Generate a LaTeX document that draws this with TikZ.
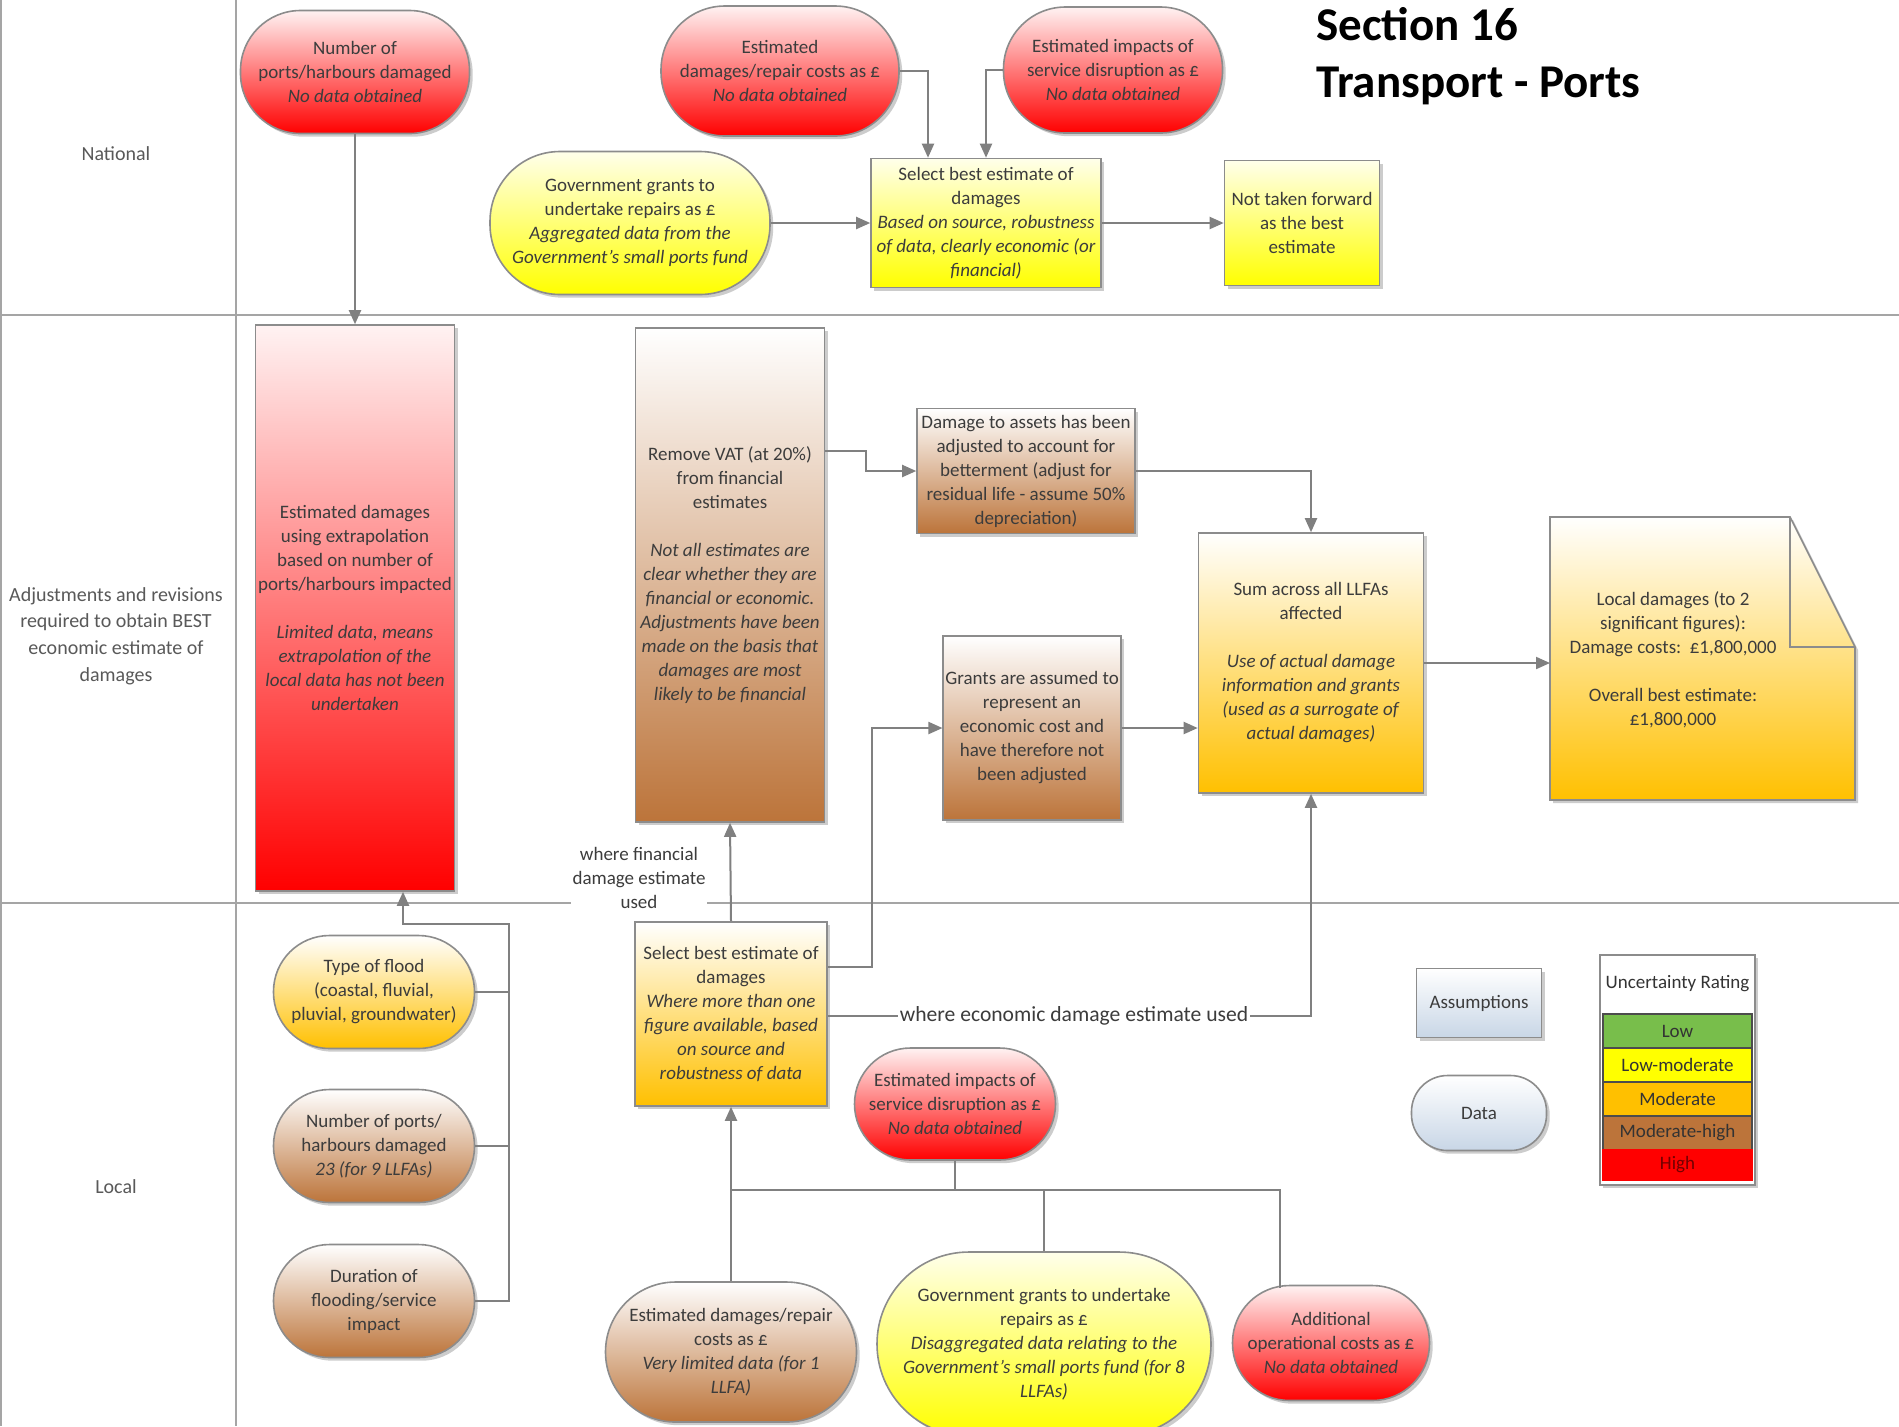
\documentclass[tikz,border=0pt]{standalone}
\usepackage{fontspec}
\setmainfont{Carlito}
\usetikzlibrary{shadows,arrows.meta}
\definecolor{txt}{RGB}{60,60,60}
\definecolor{lanetxt}{RGB}{89,89,89}
\definecolor{linec}{RGB}{128,128,128}
\definecolor{lanec}{RGB}{165,165,165}
\definecolor{ora}{RGB}{255,192,0}
\definecolor{brn}{RGB}{188,116,58}
\definecolor{blu}{RGB}{200,214,230}
\definecolor{grn}{RGB}{120,190,75}
\definecolor{yel}{RGB}{255,255,0}
\definecolor{rd}{RGB}{255,0,0}
\tikzset{
 nodebase/.style={draw=black!45, line width=0.8pt, text=txt, align=center, inner sep=1pt,
   font=\fontsize{9.5}{12}\selectfont,
   drop shadow={shadow xshift=1.6pt, shadow yshift=-1.6pt, opacity=0.4}},
 box/.style={nodebase, rectangle},
 stad/.style={nodebase, rectangle, rounded corners=#1},
 redg/.style={top color=rd!5, bottom color=rd},
 yelg/.style={top color=yel!8, bottom color=yel},
 orag/.style={top color=white, bottom color=ora},
 brng/.style={top color=white, bottom color=brn},
 blug/.style={top color=white, bottom color=blu},
 conn/.style={draw=linec, line width=1pt},
 arr/.style={conn, -{Triangle[length=7pt,width=6pt]}},
 lane/.style={draw=lanec, line width=1pt},
 lanelbl/.style={text=lanetxt, align=center, font=\fontsize{10}{13.3}\selectfont},
 lbl/.style={text=txt, align=center, fill=white, inner sep=1pt},
 rowc/.style={draw=black!70, line width=0.6pt, minimum width=74.5pt, minimum height=17pt, inner sep=0pt, font=\fontsize{9.5}{11}\selectfont, text=black!80},
}
\begin{document}
\begin{tikzpicture}[x=0.5pt, y=-0.5pt]
\fill[white] (0,0) rectangle (1899,1426);
\useasboundingbox (0,0) rectangle (1899,1426);

% lanes
\draw[lane] (1,0) -- (1,1426);
\draw[lane] (236,0) -- (236,1426);
\draw[lane] (1,315) -- (1899,315);
\draw[lane] (1,903) -- (1899,903);
\node[lanelbl] (lnat) at (116,154) {National};
\node[lanelbl] (ladj) at (116,636) {Adjustments and revisions\\required to obtain BEST\\economic estimate of\\damages};
\node[lanelbl] (lloc) at (116,1187) {Local};

% title
\node[anchor=base west, inner sep=0pt, font=\fontsize{23.5}{28}\selectfont\bfseries, text=black] (t1) at (1316,40) {Section 16};
\node[anchor=base west, inner sep=0pt, font=\fontsize{23.5}{28}\selectfont\bfseries, text=black] (t2) at (1316,97) {Transport - Ports};

% national
\node[stad=30pt, redg, minimum width=114.5pt, minimum height=61.5pt] (n1) at (355,72) {Number of\\ports/harbours damaged\\\textit{No data obtained}};
\node[stad=32pt, redg, minimum width=119pt, minimum height=65pt] (n2) at (780,71) {Estimated\\damages/repair costs as £\\\textit{No data obtained}};
\node[stad=31pt, redg, minimum width=109.5pt, minimum height=63pt] (n3) at (1113,70) {Estimated impacts of\\service disruption as £\\\textit{No data obtained}};
\node[stad=35pt, yelg, minimum width=140pt, minimum height=71.5pt] (n4) at (630,223) {Government grants to\\undertake repairs as £\\\textit{Aggregated data from the}\\\textit{Government's small ports fund}};
\node[box, yelg, minimum width=115pt, minimum height=64.5pt] (n5) at (986,223) {Select best estimate of\\damages\\\textit{Based on source, robustness}\\\textit{of data, clearly economic (or}\\\textit{financial)}};
\node[box, yelg, minimum width=77.5pt, minimum height=62.5pt] (n6) at (1302,223) {Not taken forward\\as the best\\estimate};

% adjustments
\node[box, redg, minimum width=99.5pt, minimum height=283pt] (r1) at (355,608) {Estimated damages\\using extrapolation\\based on number of\\ports/harbours impacted\\[12pt]\textit{Limited data, means}\\\textit{extrapolation of the}\\\textit{local data has not been}\\\textit{undertaken}};
\node[box, brng, minimum width=94.5pt, minimum height=247pt] (r2) at (730,575) {Remove VAT (at 20\%)\\from financial\\estimates\\[12pt]\textit{Not all estimates are}\\\textit{clear whether they are}\\\textit{financial or economic.}\\\textit{Adjustments have been}\\\textit{made on the basis that}\\\textit{damages are most}\\\textit{likely to be financial}};
\node[box, brng, minimum width=109pt, minimum height=62.5pt] (r3) at (1026,471) {Damage to assets has been\\adjusted to account for\\betterment (adjust for\\residual life - assume 50\%\\depreciation)};
\node[box, brng, minimum width=88.5pt, minimum height=92pt] (r4) at (1032,728) {Grants are assumed to\\represent an\\economic cost and\\have therefore not\\been adjusted};
\node[box, orag, minimum width=112.5pt, minimum height=130pt] (r5) at (1311,663) {Sum across all LLFAs\\affected\\[12pt]\textit{Use of actual damage}\\\textit{information and grants}\\\textit{(used as a surrogate of}\\\textit{actual damages)}};
\path[orag, draw=black!45, line width=0.8pt, drop shadow={shadow xshift=1.6pt, shadow yshift=-1.6pt, opacity=0.4}]
  (1550,517) -- (1790,517) -- (1855,647) -- (1855,800) -- (1550,800) -- cycle;
\draw[black!45, line width=0.8pt] (1790,517) -- (1790,647) -- (1855,647);
\node[text=txt, align=center, font=\fontsize{9.5}{12}\selectfont] (r6) at (1673,660) {Local damages (to 2\\significant figures):\\Damage costs:\ \ £1,800,000\\[12pt]Overall best estimate:\\£1,800,000};
\coordinate (r6w) at (1550,663);

% local
\node[stad=28pt, orag, minimum width=100.5pt, minimum height=56.5pt] (l1) at (374,992) {Type of flood\\(coastal, fluvial,\\pluvial, groundwater)};
\node[stad=28pt, brng, minimum width=100.5pt, minimum height=56.5pt] (l2) at (374,1146) {Number of ports/\\harbours damaged\\\textit{23 (for 9 LLFAs)}};
\node[stad=28pt, brng, minimum width=100.5pt, minimum height=56.5pt] (l3) at (374,1301) {Duration of\\flooding/service\\impact};
\node[box, orag, minimum width=96pt, minimum height=92pt] (l4) at (731,1014) {Select best estimate of\\damages\\\textit{Where more than one}\\\textit{figure available, based}\\\textit{on source and}\\\textit{robustness of data}};
\node[stad=28pt, redg, minimum width=100.5pt, minimum height=56pt] (l5) at (955,1104) {Estimated impacts of\\service disruption as £\\\textit{No data obtained}};
\node[stad=35pt, brng, minimum width=125.5pt, minimum height=70pt] (l6) at (731,1352) {Estimated damages/repair\\costs as £\\\textit{Very limited data (for 1}\\\textit{LLFA)}};
\node[stad=46pt, yelg, minimum width=167pt, minimum height=92pt] (l7) at (1044,1344) {Government grants to undertake\\repairs as £\\\textit{Disaggregated data relating to the}\\\textit{Government's small ports fund (for 8}\\\textit{LLFAs)}};
\node[stad=28.5pt, redg, minimum width=98.5pt, minimum height=57.5pt] (l8) at (1331,1343) {Additional\\operational costs as £\\\textit{No data obtained}};

% legend
\node[box, blug, minimum width=62.5pt, minimum height=34.5pt] (la) at (1479,1003) {Assumptions};
\node[stad=18pt, blug, minimum width=67.5pt, minimum height=37.5pt] (ld) at (1479,1113) {Data};
\node[draw=black!45, line width=0.8pt, fill=white, minimum width=77.5pt, minimum height=115pt,
  drop shadow={shadow xshift=1.6pt, shadow yshift=-1.6pt, opacity=0.4}] (tab) at (1677.5,1070) {};
\node[font=\fontsize{9.5}{11}\selectfont, text=black!80] (th) at (1677.5,984) {Uncertainty Rating};
\node[rowc, fill=grn] (tlow) at (1677.5,1031) {Low};
\node[rowc, fill=yel] (tlm) at (1677.5,1065) {Low-moderate};
\node[rowc, fill=ora] (tmod) at (1677.5,1099) {Moderate};
\node[rowc, fill=brn] (tmh) at (1677.5,1133) {Moderate-high};
\node[rowc, fill=rd, minimum height=15pt, draw=rd, text=rd!45!black] (thi) at (1677.5,1165) {High};

% connectors national
\draw[arr] (n1.south) -- (r1.north);
\draw[arr] (n2.east) -| (928,0 |- n5.north);
\draw[arr] (n3.west) -| (n5.north);
\draw[arr] (n4.east) -- (n5.west);
\draw[arr] (n5.east) -- (n6.west);

% connectors adjustments
\draw[arr] (r2.east |- 0,451) -- (866,451) |- (r3.west);
\draw[arr] (r3.east) -| (r5.north);
\draw[arr] (r4.east) -- (r4.east -| r5.west);
\draw[arr] (r5.east) -- (r5.east -| r6w);

% connectors local
\draw[conn] (l1.east) -- (509,0 |- l1.east);
\draw[conn] (l2.east) -- (509,0 |- l2.east);
\draw[arr] (l3.east) -| (509,924) -- (403,924) -- (403,0 |- r1.south);
\draw[arr] (l4.north) -- (r2.south);
\draw[arr] (l4.east |- 0,967) -- (872,967) |- (r4.west);
\draw[arr] (l4.east |- 0,1016) -| (r5.south);
\draw[arr] (l6.north) -- (l4.south);
\draw[conn] (l5.south) -- (l5.south |- 0,1190);
\draw[conn] (731,1190) -- (1280,1190) -- (1280,1288);
\draw[conn] (l7.north |- 0,1190) -- (l7.north);

% labels on lines
\node[lbl, font=\fontsize{9.5}{12}\selectfont] (fin) at (639,878) {where financial\\damage estimate\\used};
\node[lbl, font=\fontsize{10.8}{13}\selectfont] (econ) at (1074,1016) {where economic damage estimate used};
\end{tikzpicture}
\end{document}
